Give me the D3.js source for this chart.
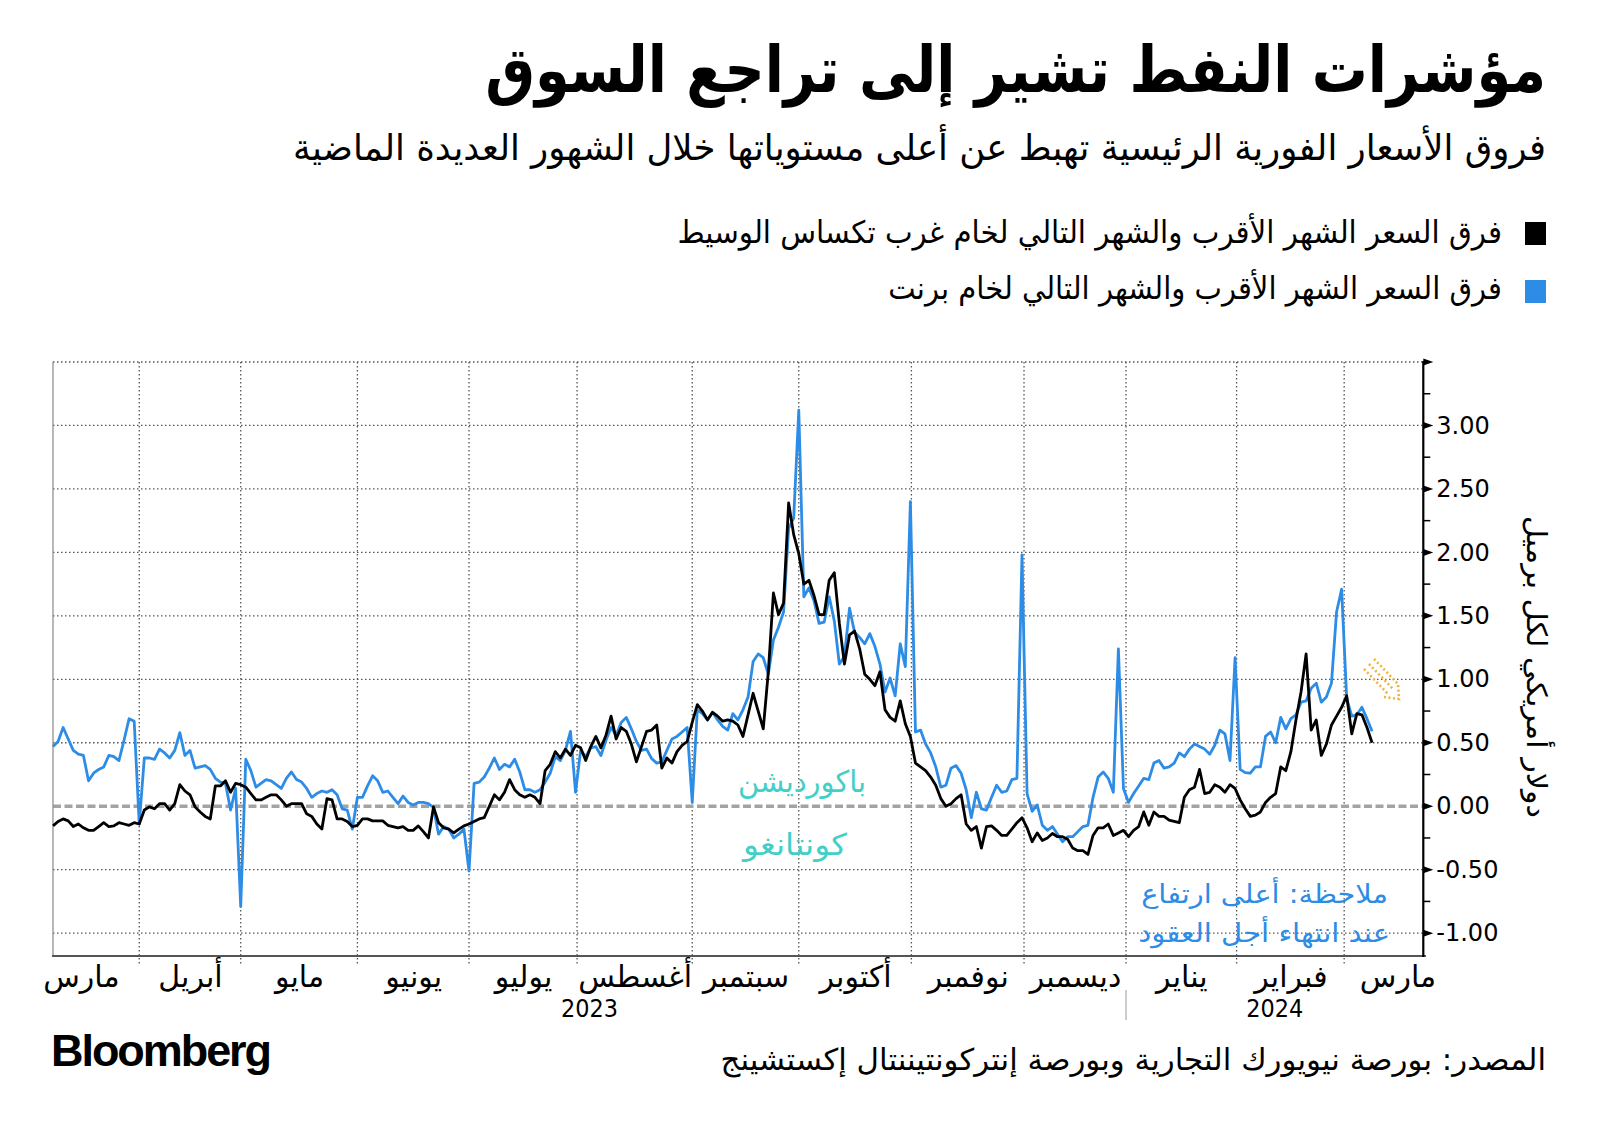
<!DOCTYPE html>
<html lang="ar">
<head>
<meta charset="utf-8">
<script src="https://cdn.jsdelivr.net/npm/d3@7"></script>
<style>
  body { margin: 0; background: #fff; }
  svg { display: block; font-family: "DejaVu Sans", sans-serif; }
</style>
</head>
<body>
<div id="chart"></div>
<script>

// WTI front-month minus next-month spread (USD per barrel), one value per trading day
var wtiSpread = [
  -0.155,-0.12,-0.10,-0.115,-0.16,-0.14,-0.17,-0.19,-0.19,-0.16,
  -0.13,-0.16,-0.155,-0.13,-0.14,-0.15,-0.13,-0.14,-0.03,-0.005,
  -0.02,0.02,0.02,-0.03,0.02,0.17,0.12,0.09,-0.005,-0.045,
  -0.08,-0.10,0.16,0.16,0.20,0.11,0.18,0.17,0.15,0.10,
  0.05,0.05,0.07,0.09,0.09,0.05,0.00,0.02,0.02,0.02,
  -0.06,-0.08,-0.14,-0.18,0.06,0.05,-0.10,-0.10,-0.12,-0.16,
  -0.15,-0.10,-0.10,-0.115,-0.115,-0.115,-0.15,-0.16,-0.17,-0.16,
  -0.19,-0.19,-0.155,-0.20,-0.25,-0.005,-0.13,-0.17,-0.18,-0.21,
  -0.18,-0.155,-0.14,-0.12,-0.10,-0.09,0.00,0.09,0.05,0.11,
  0.21,0.13,0.09,0.07,0.09,0.07,0.02,0.28,0.33,0.43,
  0.38,0.45,0.40,0.48,0.46,0.36,0.47,0.55,0.46,0.56,
  0.71,0.53,0.62,0.59,0.49,0.35,0.47,0.59,0.60,0.64,
  0.30,0.38,0.34,0.43,0.48,0.51,0.66,0.80,0.75,0.68,
  0.74,0.71,0.67,0.68,0.67,0.64,0.55,0.72,0.89,0.75,
  0.61,1.06,1.68,1.51,1.60,2.39,2.14,1.99,1.75,1.78,
  1.66,1.51,1.51,1.78,1.84,1.44,1.12,1.35,1.38,1.24,
  1.04,1.00,0.95,1.06,0.76,0.70,0.67,0.83,0.65,0.55,
  0.34,0.31,0.28,0.23,0.165,0.06,0.00,0.02,0.06,0.09,
  -0.14,-0.19,-0.16,-0.33,-0.16,-0.155,-0.19,-0.23,-0.23,-0.18,
  -0.13,-0.09,-0.17,-0.28,-0.21,-0.27,-0.25,-0.215,-0.24,-0.24,
  -0.26,-0.33,-0.35,-0.35,-0.38,-0.23,-0.17,-0.17,-0.14,-0.23,
  -0.21,-0.19,-0.24,-0.19,-0.16,-0.045,-0.15,-0.045,-0.08,-0.08,
  -0.11,-0.12,-0.13,0.07,0.13,0.15,0.29,0.10,0.11,0.17,
  0.15,0.11,0.17,0.14,0.05,-0.02,-0.08,-0.07,-0.045,0.03,
  0.07,0.10,0.31,0.28,0.43,0.68,0.90,1.20,0.60,0.68,
  0.40,0.49,0.64,0.71,0.78,0.87,0.57,0.73,0.72,0.62,0.50
];

// Brent front-month minus next-month spread
var brentSpread = [
  0.47,0.51,0.62,0.53,0.44,0.41,0.40,0.20,0.26,0.29,
  0.31,0.40,0.39,0.36,0.52,0.69,0.67,-0.14,0.38,0.38,
  0.37,0.45,0.42,0.38,0.44,0.58,0.40,0.44,0.30,0.31,
  0.32,0.29,0.22,0.19,0.18,-0.03,0.14,-0.79,0.37,0.28,
  0.15,0.18,0.21,0.20,0.17,0.14,0.22,0.27,0.21,0.19,
  0.14,0.07,0.10,0.12,0.11,0.13,0.09,-0.02,-0.03,-0.18,
  0.07,0.07,0.16,0.24,0.20,0.11,0.12,0.07,0.02,0.08,
  0.03,0.01,0.03,0.03,0.02,-0.01,-0.22,-0.16,-0.18,-0.25,
  -0.22,-0.18,-0.51,0.18,0.19,0.23,0.30,0.38,0.29,0.33,
  0.31,0.37,0.27,0.13,0.13,0.11,0.13,0.19,0.26,0.39,
  0.36,0.44,0.59,0.11,0.44,0.39,0.46,0.47,0.40,0.52,
  0.62,0.56,0.66,0.70,0.61,0.51,0.44,0.45,0.375,0.34,
  0.35,0.44,0.53,0.55,0.585,0.62,0.03,0.76,0.73,0.68,
  0.74,0.68,0.63,0.60,0.73,0.68,0.76,0.86,1.14,1.20,
  1.17,1.04,1.31,1.41,1.53,2.19,2.27,3.12,1.65,1.72,
  1.62,1.44,1.45,1.65,1.46,1.12,1.18,1.56,1.37,1.33,
  1.28,1.36,1.26,1.12,0.90,1.01,0.87,1.28,1.10,2.40,
  0.585,0.60,0.49,0.42,0.31,0.15,0.165,0.30,0.32,0.26,
  0.13,-0.09,0.11,-0.02,-0.03,0.07,0.165,0.11,0.12,0.21,
  0.22,1.98,0.10,-0.04,0.01,-0.15,-0.19,-0.16,-0.22,-0.28,
  -0.24,-0.24,-0.20,-0.16,-0.15,0.07,0.23,0.27,0.22,0.11,
  1.24,0.14,0.03,0.10,0.16,0.22,0.21,0.34,0.36,0.30,
  0.31,0.34,0.42,0.39,0.45,0.49,0.47,0.45,0.41,0.48,
  0.60,0.57,0.36,1.17,0.29,0.265,0.26,0.31,0.31,0.55,
  0.585,0.50,0.70,0.61,0.69,0.72,0.82,0.83,0.93,0.97,
  0.82,0.86,0.97,1.53,1.71,0.85,0.71,0.72,0.78,0.69,0.59
];

// month boundaries on the trading-day axis (Mar 2023 ... Apr 2024)
var monthStarts = [-6, 17, 37, 60, 82, 103.3, 126, 147, 169.2, 191.4, 211.5, 233.3, 254.5, 275.5];
var monthNames = ["مارس", "أبريل", "مايو", "يونيو", "يوليو", "أغسطس", "سبتمبر", "أكتوبر", "نوفمبر", "ديسمبر", "يناير", "فبراير", "مارس"];
var years = [{label: "2023", from: 0, to: 211.5}, {label: "2024", from: 211.5, to: 270.1}];

var yMajor = [-1, -0.5, 0, 0.5, 1, 1.5, 2, 2.5, 3, 3.5];
var yLabeled = [-1, -0.5, 0, 0.5, 1, 1.5, 2, 2.5, 3];
var yMinor = [-0.75, -0.25, 0.25, 0.75, 1.25, 1.75, 2.25, 2.75, 3.25];

var titleText = "مؤشرات النفط تشير إلى تراجع السوق";
var subtitleText = "فروق الأسعار الفورية الرئيسية تهبط عن أعلى مستوياتها خلال الشهور العديدة الماضية";
var legendNames = ["فرق السعر الشهر الأقرب والشهر التالي لخام غرب تكساس الوسيط", "فرق السعر الشهر الأقرب والشهر التالي لخام برنت"];
var yTitle = "دولار أمريكي لكل برميل";
var sourceText = "المصدر: بورصة نيويورك التجارية وبورصة إنتركونتيننتال إكستشينج";
var noteLines = ["ملاحظة: أعلى ارتفاع", "عند انتهاء أجل العقود"];

var blue = "#2d8ce6", teal = "#43cfc8", orange = "#f2b13c";

var svg = d3.select("#chart").append("svg")
    .attr("width", 1600)
    .attr("height", 1132);

var x = d3.scaleLinear().domain([0, 270.1]).range([53, 1423.3]);
var y = d3.scaleLinear().domain([-1.18, 3.5]).range([956, 362]);

// right-aligned Arabic text, squeezed horizontally to the reference width
function rtlText(parent, txt, xp, yp, size, width, weight, color) {
  var g = parent.append("g");
  var t = g.append("text")
    .attr("x", 0).attr("y", 0)
    .attr("text-anchor", "start")
    .style("direction", "rtl")
    .attr("font-size", size)
    .attr("fill", color || "#000")
    .text(txt);
  if (weight) t.attr("font-weight", weight);
  var sx = width ? width / t.node().getComputedTextLength() : 1;
  g.attr("transform", "translate(" + xp + "," + yp + ") scale(" + sx + ",1)");
  return t;
}
rtlText(svg, titleText, 1546, 92, 64, 1061, "bold");
rtlText(svg, subtitleText, 1546, 160, 36, 1253);
rtlText(svg, legendNames[0], 1502, 243, 31, 825);
rtlText(svg, legendNames[1], 1502, 299, 31, 614);
svg.append("rect").attr("x", 1525).attr("y", 222).attr("width", 21).attr("height", 23).attr("fill", "#000");
svg.append("rect").attr("x", 1525).attr("y", 280).attr("width", 21).attr("height", 23).attr("fill", blue);

// grid
var plot = svg.append("g");
plot.selectAll(".hgrid")
  .data(yMajor.filter(function(d) { return d !== 0; }))
  .enter().append("line")
    .attr("x1", x(0)).attr("x2", x.range()[1])
    .attr("y1", function(d) { return y(d); })
    .attr("y2", function(d) { return y(d); })
    .attr("stroke", "#555").attr("stroke-width", 1.3)
    .attr("stroke-dasharray", "1.5,2.5");

plot.selectAll(".vgrid")
  .data(monthStarts.slice(1, -1))
  .enter().append("line")
    .attr("x1", function(d) { return x(d); })
    .attr("x2", function(d) { return x(d); })
    .attr("y1", y(3.5)).attr("y2", 964)
    .attr("stroke", "#555").attr("stroke-width", 1.3)
    .attr("stroke-dasharray", "1.5,2.5");

// zero line
plot.append("line")
  .attr("x1", x(0)).attr("x2", x.range()[1])
  .attr("y1", y(0)).attr("y2", y(0))
  .attr("stroke", "#a3a3a3").attr("stroke-width", 3.6)
  .attr("stroke-dasharray", "8,3.5");

// left border and bottom axis
plot.append("line").attr("x1", 53).attr("x2", 53).attr("y1", y(3.5)).attr("y2", 956)
  .attr("stroke", "#888").attr("stroke-width", 1.2);
plot.append("line").attr("x1", 52).attr("x2", 1426).attr("y1", 956).attr("y2", 956)
  .attr("stroke", "#555").attr("stroke-width", 2.2);

// annotations inside plot
plot.append("text").attr("x", 802).attr("y", 792).attr("text-anchor", "middle")
  .style("direction", "rtl").attr("font-size", 30).attr("fill", teal)
  .attr("textLength", 128).attr("lengthAdjust", "spacingAndGlyphs")
  .text("باكورديشن");
plot.append("text").attr("x", 795).attr("y", 855).attr("text-anchor", "middle")
  .style("direction", "rtl").attr("font-size", 30).attr("fill", teal)
  .attr("textLength", 104).attr("lengthAdjust", "spacingAndGlyphs")
  .text("كونتانغو");
noteLines.forEach(function(d, i) {
  rtlText(plot, d, i === 0 ? 1388 : 1390, 903 + i * 39, 26, i === 0 ? 247 : 252, null, blue);
});

// series
var line = d3.line()
  .x(function(d, i) { return x(i); })
  .y(function(d) { return y(d); });

plot.append("path").datum(brentSpread)
  .attr("fill", "none").attr("stroke", blue).attr("stroke-width", 2.8)
  .attr("stroke-linejoin", "round").attr("d", line);
plot.append("path").datum(wtiSpread)
  .attr("fill", "none").attr("stroke", "#000").attr("stroke-width", 2.8)
  .attr("stroke-linejoin", "round").attr("d", line);

// dotted orange arrow pointing down
var arrow = plot.append("g").attr("stroke", orange).attr("stroke-width", 2.6)
  .attr("stroke-dasharray", "2,2.5").attr("fill", "none");
[-5, 0, 5].forEach(function(o) {
  arrow.append("line")
    .attr("x1", 1369 + o).attr("y1", 664 - o)
    .attr("x2", 1393 + o).attr("y2", 689 - o);
});
arrow.append("path").attr("d", "M1384,697 L1399,699 L1398,684");

// right axis
var axisX = x.range()[1];
var yAxis = d3.axisRight(y)
  .tickValues(yLabeled)
  .tickSize(0)
  .tickPadding(13)
  .tickFormat(function(d) { return d.toFixed(2); });
var gy = svg.append("g").attr("transform", "translate(" + axisX + ",0)").call(yAxis);
gy.select(".domain").remove();
gy.selectAll("text").attr("font-size", 24).attr("fill", "#000")
  .style("font-family", "'DejaVu Sans', sans-serif");

svg.append("line").attr("x1", axisX).attr("x2", axisX).attr("y1", y(3.5) - 1).attr("y2", 957)
  .attr("stroke", "#000").attr("stroke-width", 2.2);
svg.selectAll(".tri")
  .data(yMajor)
  .enter().append("path")
    .attr("d", function(d) {
      var yy = y(d);
      return "M" + axisX + "," + (yy - 3.5) + "L" + (axisX + 10) + "," + yy + "L" + axisX + "," + (yy + 3.5) + "Z";
    })
    .attr("fill", "#000");
svg.selectAll(".minor")
  .data(yMinor)
  .enter().append("line")
    .attr("x1", axisX).attr("x2", axisX + 7)
    .attr("y1", function(d) { return y(d); })
    .attr("y2", function(d) { return y(d); })
    .attr("stroke", "#000").attr("stroke-width", 1.5);

svg.append("text")
  .attr("transform", "translate(1527,667) rotate(90)")
  .attr("text-anchor", "middle")
  .style("direction", "rtl")
  .attr("font-size", 28)
  .attr("textLength", 302).attr("lengthAdjust", "spacingAndGlyphs")
  .text(yTitle);

// x axis labels at mid-month
var monthMids = monthNames.map(function(m, i) { return (monthStarts[i] + monthStarts[i + 1]) / 2; });
var xAxis = d3.axisBottom(x)
  .tickValues(monthMids)
  .tickSize(0)
  .tickPadding(0)
  .tickFormat(function(d, i) { return monthNames[i]; });
var gx = svg.append("g").attr("transform", "translate(0,956)").call(xAxis);
gx.select(".domain").remove();
gx.selectAll("text")
  .attr("y", 31).attr("dy", 0)
  .attr("font-size", 30).attr("fill", "#000")
  .style("font-family", "'DejaVu Sans', sans-serif");

svg.selectAll(".year")
  .data(years)
  .enter().append("text")
    .attr("x", function(d) { return (x(d.from) + x(d.to)) / 2; })
    .attr("y", 1017)
    .attr("text-anchor", "middle")
    .attr("font-size", 25)
    .attr("textLength", 57).attr("lengthAdjust", "spacingAndGlyphs")
    .text(function(d) { return d.label; });
svg.append("line")
  .attr("x1", x(years[1].from)).attr("x2", x(years[1].from))
  .attr("y1", 990).attr("y2", 1020)
  .attr("stroke", "#999").attr("stroke-width", 1);

// footer
svg.append("text").attr("x", 51).attr("y", 1066)
  .attr("font-family", "'Liberation Sans', Arial, sans-serif")
  .attr("font-weight", "bold").attr("font-size", 44)
  .attr("textLength", 219).attr("lengthAdjust", "spacingAndGlyphs")
  .attr("letter-spacing", -2)
  .text("Bloomberg");
rtlText(svg, sourceText, 1546, 1070, 30, 826);

</script>
</body>
</html>
